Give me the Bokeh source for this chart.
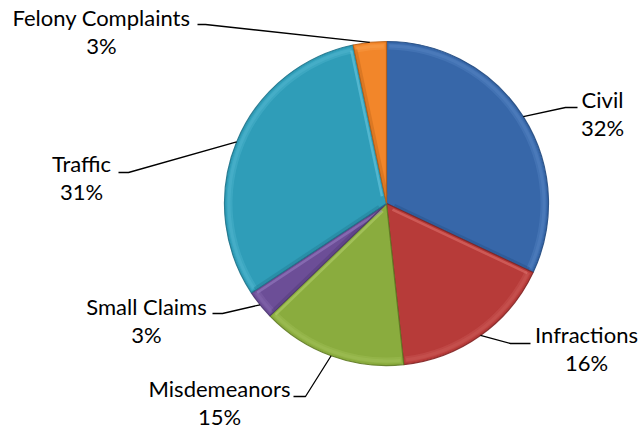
import math
from bokeh.plotting import figure
from bokeh.models import Range1d
from bokeh.core.properties import value
from bokeh.embed import file_html
from bokeh.resources import INLINE

# ---- data ----
categories = ["Civil", "Infractions", "Misdemeanors", "Small Claims", "Traffic", "Felony Complaints"]
shares = [32.0, 16.3, 14.5, 2.9, 31.0, 3.3]
pct_labels = ["32%", "16%", "15%", "3%", "31%", "3%"]

# ---- styles ----
base_colors = ["#3767a9", "#b73b39", "#8aac3e", "#6c4e97", "#2f9db8", "#f2862a"]
light_colors = ["#6f9ad6", "#e07370", "#b5d26e", "#9a80c4", "#6fcbe2", "#ffb266"]
dark_colors = ["#224a7f", "#812423", "#5f7a22", "#4b3570", "#1f7389", "#b55e16"]

# layout (reference pixel space, y downward)
CX, CY, R = 386.0, 203.0, 162.0
label_center_x = [602, 586, 219, 146, 81, 101]
label_baseline = [108, 343, 397, 315, 172, 26]
line_gap = 28
text_shift = 9
elbow_x = [565, 510, 305, 222, 128, 205]
end_x = [577, 530, 293, 212, 118, 197]
elbow_y = [107, 343, 396, 313, 172, 24]

FONT = "Lato"
FSIZE = "22px"

W, H = 641, 432

p = figure(width=W, height=H, output_backend="svg", toolbar_location=None,
           x_range=Range1d(0, W), y_range=Range1d(-H, 0),
           min_border=0)
p.axis.visible = False
p.grid.visible = False
p.outline_line_color = None
p.background_fill_color = "white"
p.border_fill_color = "white"


def edge_shade(phi, normal, color, alpha, width, inset):
    # a line along a radial edge (angle phi, clockwise from top, screen y down)
    dx, dy = math.sin(phi), -math.cos(phi)
    nx, ny = normal
    xs, ys = [], []
    for r in (8.0, R - 5.0):
        sx = CX + r * dx - inset * nx
        sy = CY + r * dy - inset * ny
        xs.append(sx)
        ys.append(-sy)
    p.line(x=xs, y=ys, line_color=color, line_alpha=alpha, line_width=width)


total = sum(shares)
cum = 0.0
for i, s in enumerate(shares):
    c0 = cum / total
    c1 = (cum + s) / total
    cum += s
    start = math.pi / 2 - 2 * math.pi * c1
    end = math.pi / 2 - 2 * math.pi * c0
    # base slice
    p.wedge(x=CX, y=-CY, radius=R, start_angle=start, end_angle=end,
            fill_color=base_colors[i], line_color=None)
    # bevel rim highlight (soft)
    p.annular_wedge(x=CX, y=-CY, inner_radius=R - 8, outer_radius=R - 2,
                    start_angle=start + 0.012, end_angle=end - 0.012,
                    fill_color=light_colors[i], fill_alpha=0.22, line_color=None)
    p.annular_wedge(x=CX, y=-CY, inner_radius=R - 6, outer_radius=R - 3,
                    start_angle=start + 0.018, end_angle=end - 0.018,
                    fill_color=light_colors[i], fill_alpha=0.18, line_color=None)
    # radial edge bevels, lit from above
    phi0, phi1 = 2 * math.pi * c0, 2 * math.pi * c1
    n0 = (-math.cos(phi0), -math.sin(phi0))
    n1 = (math.cos(phi1), math.sin(phi1))
    for phi, n in ((phi0, n0), (phi1, n1)):
        if n[1] < -0.15:
            edge_shade(phi, n, light_colors[i], 0.55, 2.5, 3.0)
        elif n[1] > 0.15:
            edge_shade(phi, n, dark_colors[i], 0.35, 2.5, 2.0)
    # outline
    p.wedge(x=CX, y=-CY, radius=R, start_angle=start, end_angle=end,
            fill_color=None, line_color=dark_colors[i], line_width=1.2, line_alpha=0.9)

    # leader line from slice mid-angle on rim
    mid = 2 * math.pi * (c0 + c1) / 2
    ex = CX + R * math.sin(mid)
    ey = CY - R * math.cos(mid)
    p.line(x=[end_x[i], elbow_x[i], ex], y=[-elbow_y[i], -elbow_y[i], -ey],
           line_color="black", line_width=1.3)

    # labels
    p.text(x=[label_center_x[i]], y=[-(label_baseline[i] - text_shift)], text=[categories[i]],
           text_align="center", text_baseline="alphabetic",
           text_font=value(FONT), text_font_size=FSIZE, text_color="black")
    p.text(x=[label_center_x[i]], y=[-(label_baseline[i] + line_gap - text_shift)], text=[pct_labels[i]],
           text_align="center", text_baseline="alphabetic",
           text_font=value(FONT), text_font_size=FSIZE, text_color="black")

open("out.html", "w").write(file_html(p, INLINE))
